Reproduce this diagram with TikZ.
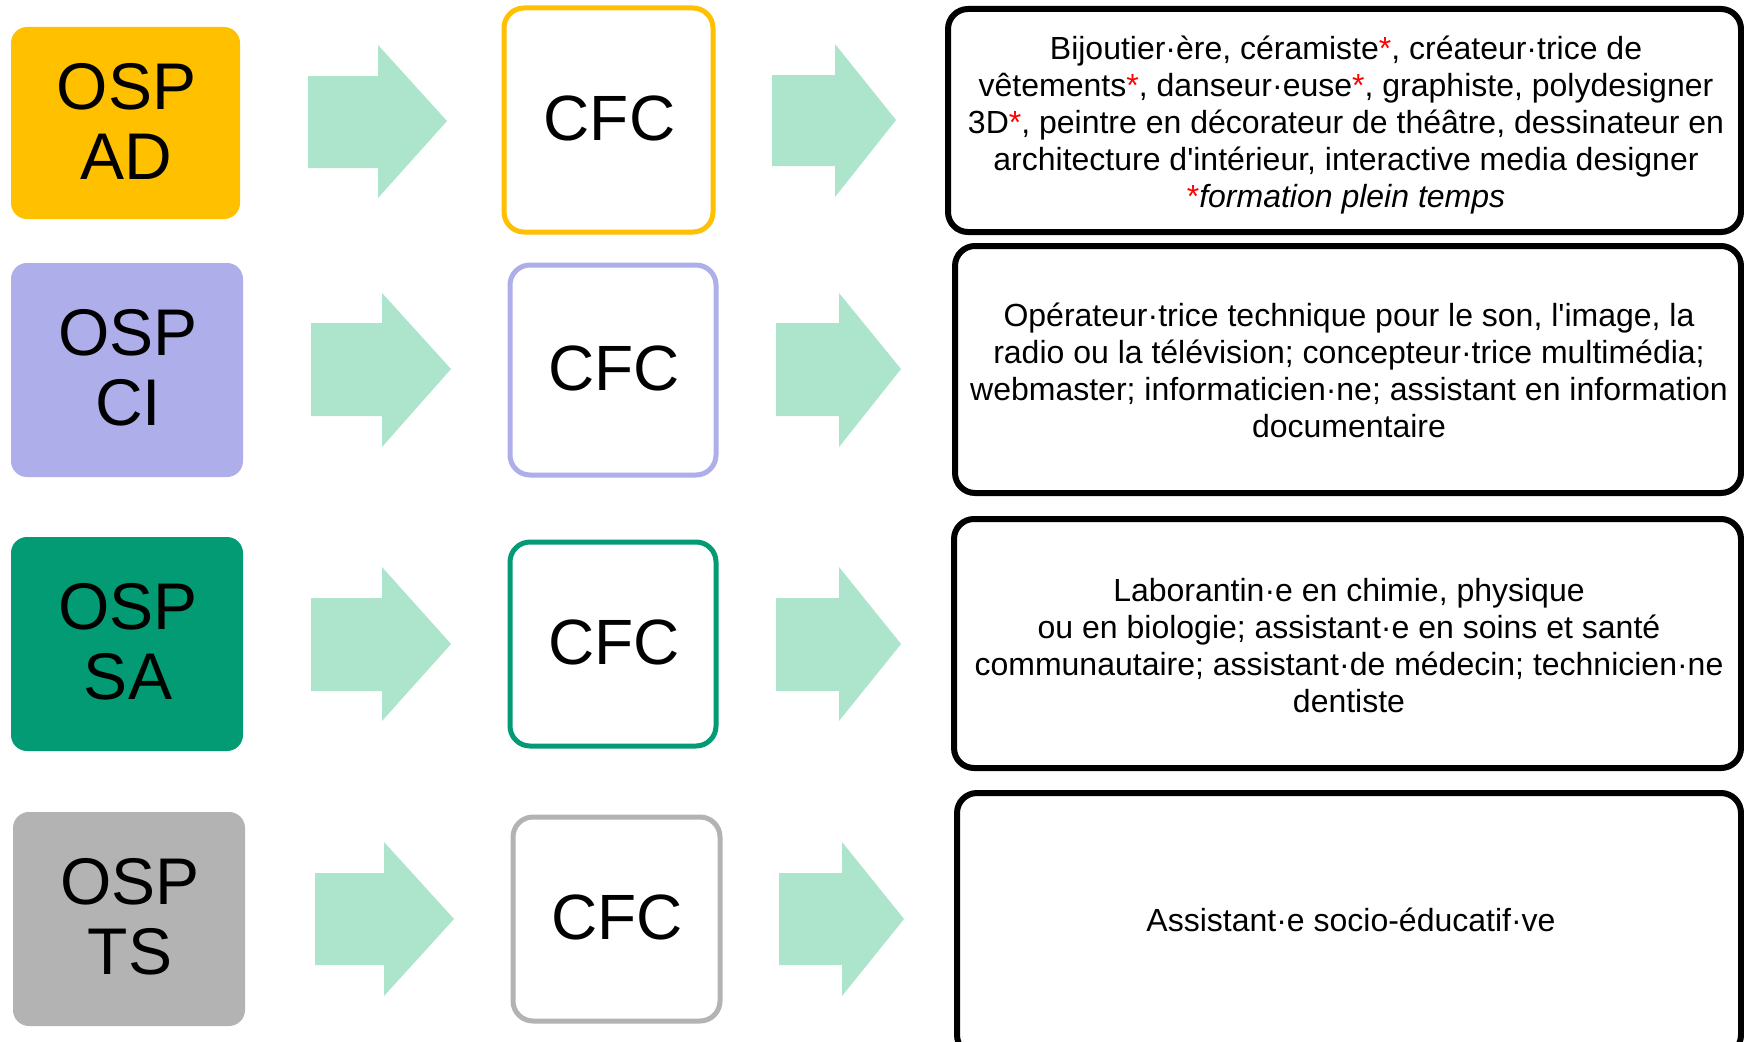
\documentclass[tikz,border=0pt]{standalone}
\usepackage{fontspec}
\setmainfont{Liberation Sans}[Ligatures=TeXOff]
\definecolor{adcol}{HTML}{FFC000}
\definecolor{cicol}{HTML}{AEAEEB}
\definecolor{sacol}{HTML}{029B74}
\definecolor{tscol}{HTML}{B3B3B3}
\definecolor{arrcol}{HTML}{ACE4CC}
\definecolor{starcol}{HTML}{FF0000}
\newcommand{\rs}{\textcolor{starcol}{*}}
\tikzset{
  ospbox/.style={rectangle, rounded corners=16pt, inner sep=0pt},
  osptext/.style={inner sep=0pt, align=center, font=\fontsize{66}{70}\selectfont},
  cfcbox/.style={rectangle, rounded corners=20pt, inner sep=0pt, line width=5pt,
    fill=white},
  cfctext/.style={inner sep=0pt, font=\fontsize{64}{70}\selectfont},
  jobbox/.style={rectangle, rounded corners=20pt, inner sep=0pt, line width=6pt,
    draw=black},
  jobtext/.style={inner sep=0pt, align=center, font=\fontsize{32}{37}\selectfont},
  blockarrow/.style={fill=arrcol, draw=none}
}
\begin{document}
\begin{tikzpicture}[x=1pt,y=-1pt]
\useasboundingbox (0,0) rectangle (1744,1041);
\fill[white] (0,0) rectangle (1744,1041);

% OSP boxes
\node[ospbox, fill=adcol, minimum width=229pt, minimum height=192pt] (ad) at (125.5,123) {};
\node[ospbox, fill=cicol, minimum width=232pt, minimum height=214pt] (ci) at (127,370) {};
\node[ospbox, fill=sacol, minimum width=232pt, minimum height=214pt] (sa) at (127,644) {};
\node[ospbox, fill=tscol, minimum width=232pt, minimum height=214pt] (ts) at (129,919) {};
\node[osptext] (adt) at (126.5,121) {OSP\\AD};
\node[osptext] (cit) at (128,368) {OSP\\CI};
\node[osptext] (sat) at (128,642) {OSP\\SA};
\node[osptext] (tst) at (130,917) {OSP\\TS};

% CFC boxes
\node[cfcbox, draw=adcol, minimum width=209pt, minimum height=224pt] (cfcad) at (608.5,120) {};
\node[cfcbox, draw=cicol, minimum width=206pt, minimum height=210pt] (cfcci) at (613,370) {};
\node[cfcbox, draw=sacol, minimum width=206pt, minimum height=204pt] (cfcsa) at (613,644) {};
\node[cfcbox, draw=tscol, minimum width=207pt, minimum height=204pt] (cfcts) at (616.5,919) {};
\node[cfctext] (cfcadt) at (609.5,118) {CFC};
\node[cfctext] (cfccit) at (614,368) {CFC};
\node[cfctext] (cfcsat) at (614,642) {CFC};
\node[cfctext] (cfctst) at (617,917) {CFC};

% Job boxes
\node[jobbox, minimum width=793pt, minimum height=223pt] (jobad) at (1344.5,120.5) {};
\node[jobbox, minimum width=786pt, minimum height=247pt] (jobci) at (1348,369.5) {};
\node[jobbox, minimum width=787pt, minimum height=249pt] (jobsa) at (1347.5,643.5) {};
\node[jobbox, minimum width=784pt, minimum height=262pt] (jobts) at (1349,924) {};
\node[jobtext] (jobadt) at (1346,125)
 {Bijoutier·ère, céramiste\rs, créateur·trice de\\
  vêtements\rs, danseur·euse\rs, graphiste, polydesigner\\
  3D\rs, peintre en décorateur de théâtre, dessinateur en\\
  architecture d'intérieur, interactive media designer\\
  \rs\textit{formation plein temps}};
\node[jobtext] (jobcit) at (1349,370.5)
 {Opérateur·trice technique pour le son, l'image, la\\
  radio ou la télévision; concepteur·trice multimédia;\\
  webmaster; informaticien·ne; assistant en information\\
  documentaire};
\node[jobtext] (jobsat) at (1349,646)
 {Laborantin·e en chimie, physique\\
  ou en biologie; assistant·e en soins et santé\\
  communautaire; assistant·de médecin; technicien·ne\\
  dentiste};
\node[jobtext] (jobtst) at (1351,920) {Assistant·e socio-éducatif·ve};

% Block arrows
\fill[blockarrow] (308,76) -- (378,76) -- (378,45) -- (447,121) -- (378,198) -- (378,168) -- (308,168) -- cycle;
\fill[blockarrow] (772,75) -- (835,75) -- (835,44) -- (896,120) -- (835,197) -- (835,166) -- (772,166) -- cycle;
\fill[blockarrow] (311,323) -- (382,323) -- (382,293) -- (451,369) -- (382,447) -- (382,416) -- (311,416) -- cycle;
\fill[blockarrow] (776,323) -- (839,323) -- (839,293) -- (901,369) -- (839,447) -- (839,416) -- (776,416) -- cycle;
\fill[blockarrow] (311,598) -- (382,598) -- (382,567) -- (451,644) -- (382,721) -- (382,691) -- (311,691) -- cycle;
\fill[blockarrow] (776,598) -- (839,598) -- (839,567) -- (901,644) -- (839,721) -- (839,691) -- (776,691) -- cycle;
\fill[blockarrow] (315,873) -- (384,873) -- (384,842) -- (454,919) -- (384,996) -- (384,965) -- (315,965) -- cycle;
\fill[blockarrow] (779,873) -- (842,873) -- (842,842) -- (904,919) -- (842,996) -- (842,965) -- (779,965) -- cycle;
\end{tikzpicture}
\end{document}
